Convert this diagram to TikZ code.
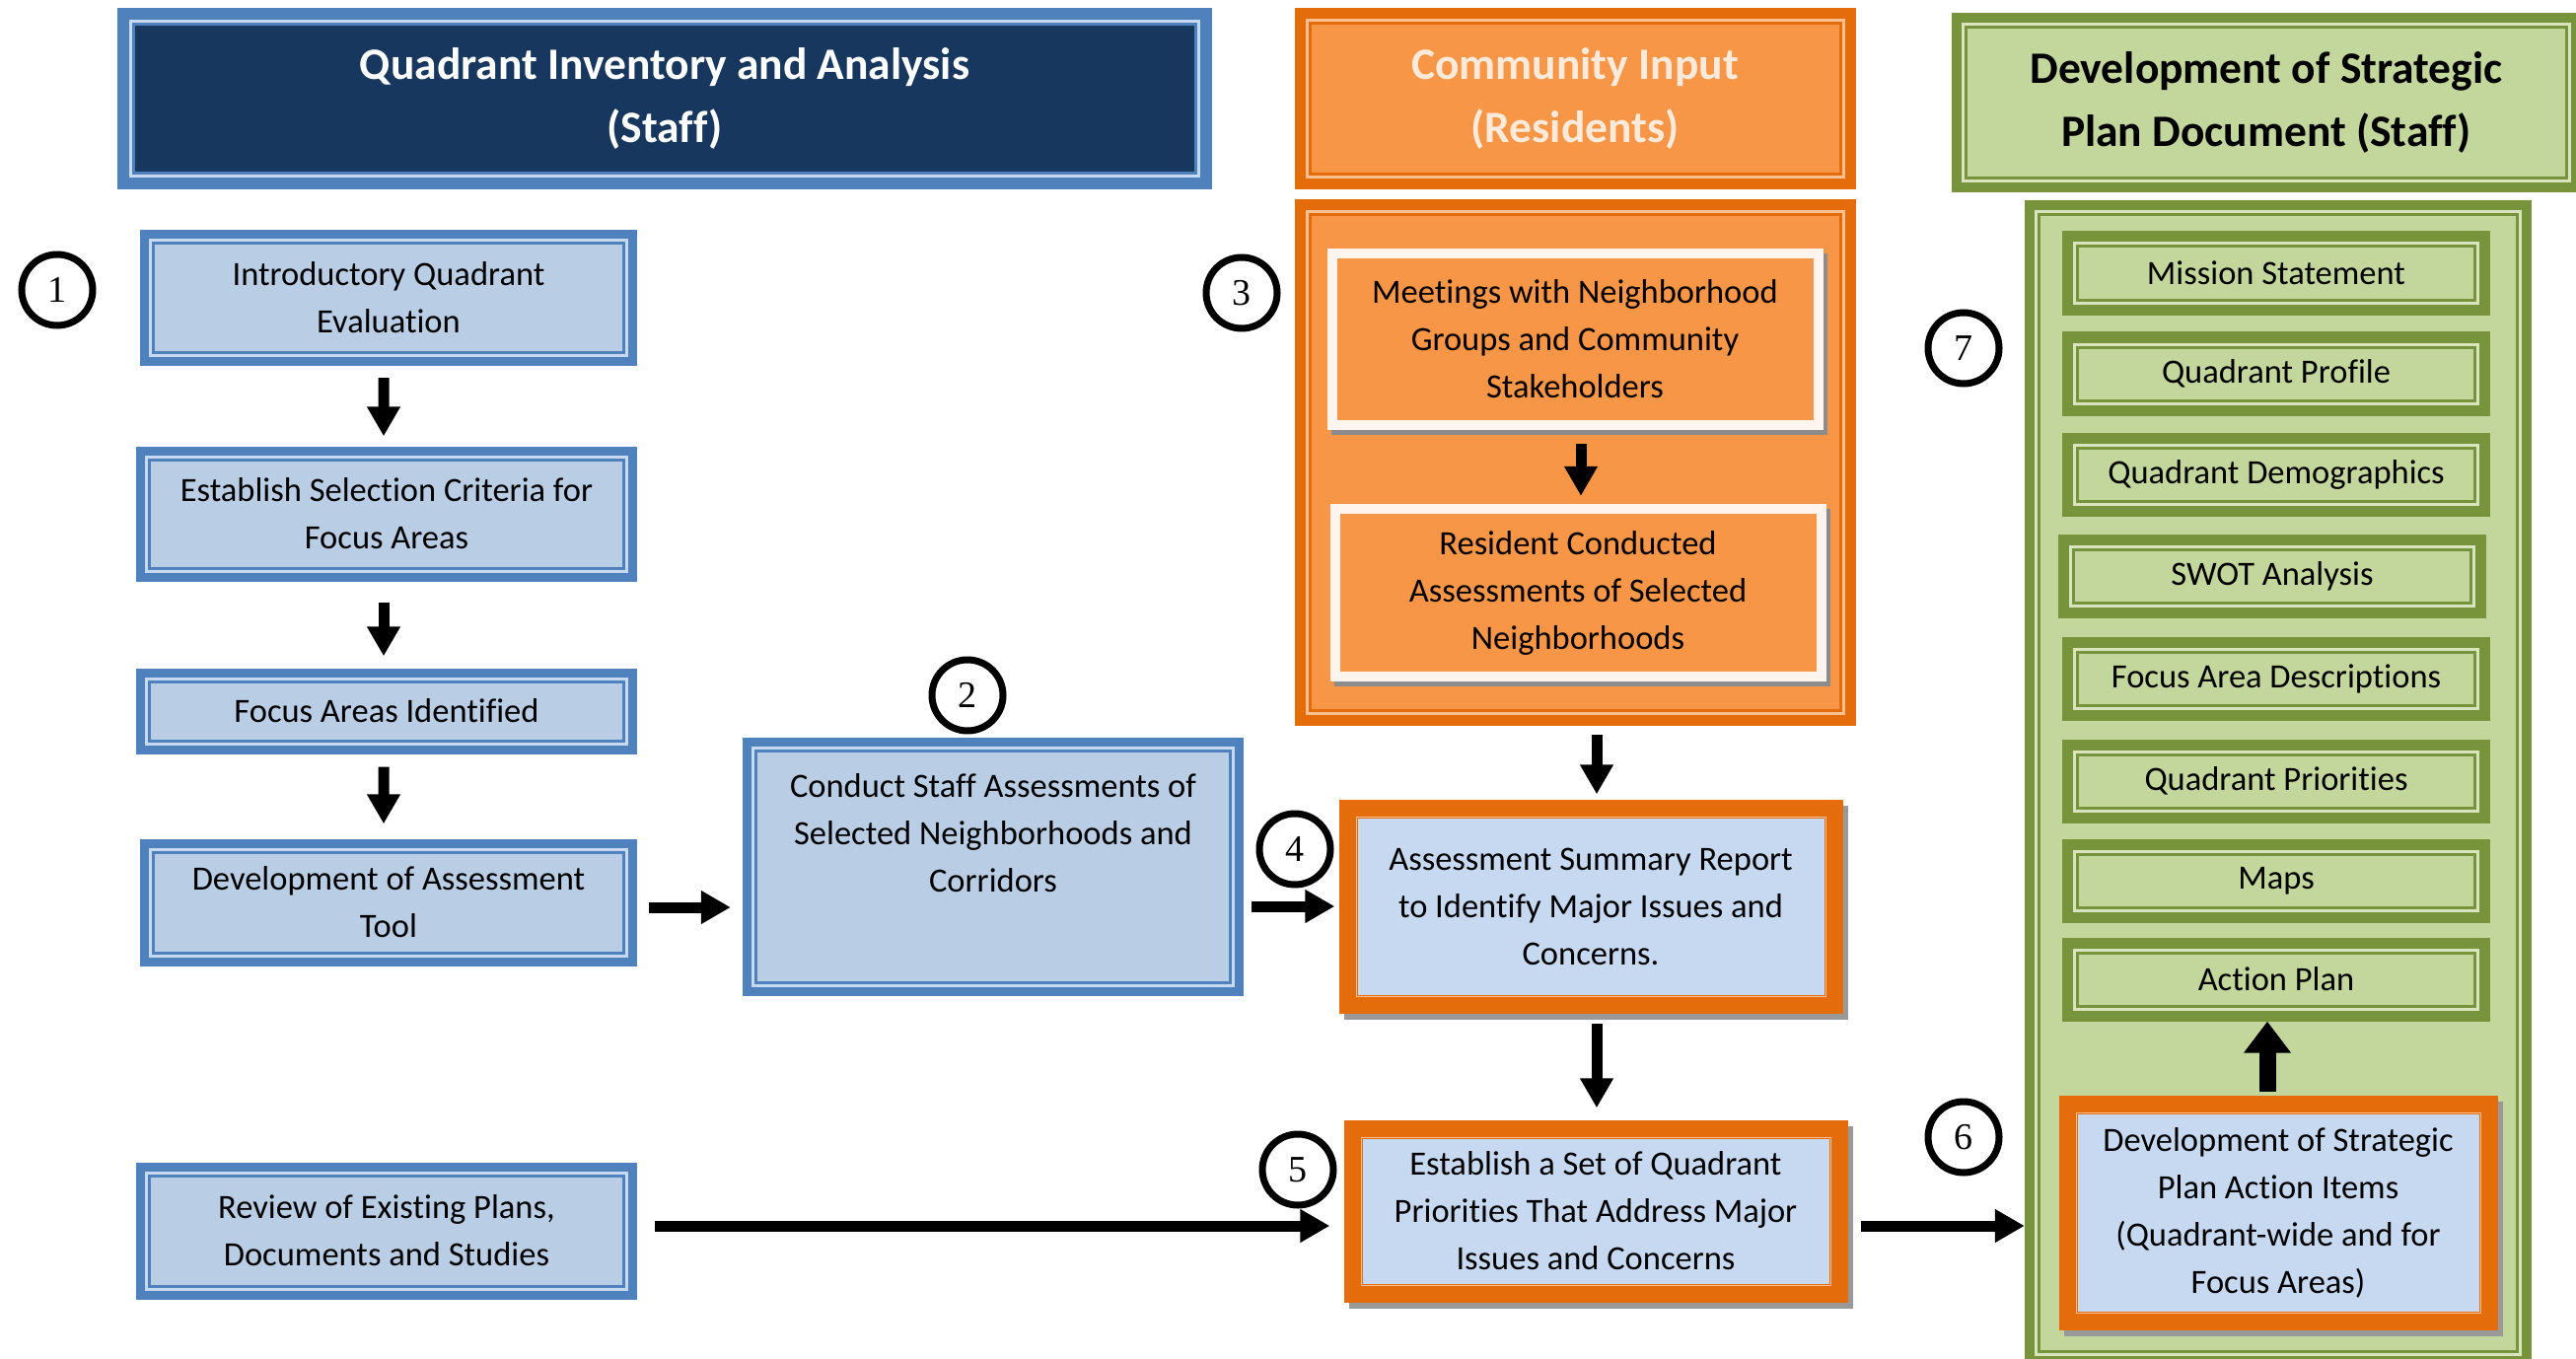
\documentclass[tikz,border=0pt]{standalone}
\usepackage{fontspec}
\setmainfont{Carlito}[Ligatures=CommonOff]
\newfontfamily\numfont{Liberation Serif}
\usetikzlibrary{arrows.meta,shadows}
\definecolor{bband}{HTML}{4F81BD}
\definecolor{bline}{HTML}{C6D9F1}
\definecolor{bfill}{HTML}{B9CDE5}
\definecolor{navy}{HTML}{17375E}
\definecolor{oband}{HTML}{E46C0A}
\definecolor{ofill}{HTML}{F79646}
\definecolor{oline}{HTML}{FAC090}
\definecolor{otext}{HTML}{FDEADA}
\definecolor{ocream}{HTML}{FFF5EE}
\definecolor{gband}{HTML}{77933C}
\definecolor{gfill}{HTML}{C3D69B}
\definecolor{gline}{HTML}{D7E4BD}
\definecolor{lblue}{HTML}{C6D9F1}
\tikzset{
  frm/.style n args={6}{rectangle, fill=#1, inner sep=0pt, align=center,
    path picture={
      \fill[#2] ([shift={(#4,#4)}]path picture bounding box.south west) rectangle ([shift={(-#4,-#4)}]path picture bounding box.north east);
      \fill[#1] ([shift={(#5,#5)}]path picture bounding box.south west) rectangle ([shift={(-#5,-#5)}]path picture bounding box.north east);
      \fill[#3] ([shift={(#6,#6)}]path picture bounding box.south west) rectangle ([shift={(-#6,-#6)}]path picture bounding box.north east);
    }},
  body/.style={font=\fontsize{34.5bp}{48bp}\selectfont, align=center, text=black},
  ttl/.style={font=\fontsize{45.5bp}{64bp}\selectfont\bfseries},
  stepbox/.style={frm={bband}{bline}{bfill}{9bp}{12bp}{15bp}, body},
  hdrnavy/.style={frm={bband}{bline}{navy}{12bp}{15bp}{18bp}, ttl, text=white},
  hdrorange/.style={frm={oband}{oline}{ofill}{11bp}{14bp}{17bp}, ttl, text=otext},
  hdrgreen/.style={frm={gband}{gline}{gfill}{10bp}{13bp}{16bp}, ttl, text=black},
  obox/.style={frm={oband}{oline}{ofill}{11bp}{14bp}{17bp}},
  meetbox/.style={frm={ocream}{ocream}{ofill}{10bp}{10bp}{10bp}, body,
    drop shadow={shadow xshift=4bp, shadow yshift=-5bp, fill=black!45, opacity=1}},
  gbox/.style={frm={gband}{gline}{gfill}{10bp}{13bp}{16bp}},
  gitem/.style={frm={gband}{gline}{gfill}{11bp}{14bp}{17bp}, body},
  obluebox/.style={frm={oband}{oline}{lblue}{17bp}{18bp}{19bp}, body,
    drop shadow={shadow xshift=5bp, shadow yshift=-6bp, fill=black!40, opacity=1}},
  num/.style={circle, draw=black, line width=7bp, minimum size=72bp, inner sep=0pt,
    font=\numfont\fontsize{38bp}{38bp}\selectfont},
  arr/.style={line width=11bp, -{Triangle[length=30bp,width=32bp]}},
  bigarr/.style={line width=17bp, -{Triangle[length=32bp,width=46bp]}}
}
\begin{document}
\begin{tikzpicture}[x=1bp,y=-1bp]
\useasboundingbox[fill=white] (0,0) rectangle (2612,1378);

% headers
\node[hdrnavy, minimum width=1109bp, minimum height=184bp] (h1) at (674,100) {Quadrant Inventory and Analysis\\(Staff)};
\node[hdrorange, minimum width=569bp, minimum height=184bp] (h2) at (1597,100) {Community Input\\(Residents)};
\node[hdrgreen, minimum width=638bp, minimum height=182bp] (h3) at (2298,104) {Development of Strategic\\Plan Document (Staff)};

% left column
\node[stepbox, minimum width=504bp, minimum height=138bp] (b1) at (394,302) {Introductory Quadrant\\Evaluation};
\node[stepbox, minimum width=507bp, minimum height=137bp] (b2) at (392,521) {Establish Selection Criteria for\\Focus Areas};
\node[stepbox, minimum width=507bp, minimum height=87bp] (b3) at (392,721) {Focus Areas Identified};
\node[stepbox, minimum width=504bp, minimum height=129bp] (b4) at (394,915) {Development of Assessment\\Tool};
\node[stepbox, minimum width=507bp, minimum height=139bp] (b5) at (392,1248) {Review of Existing Plans,\\Documents and Studies};
\node[stepbox, minimum width=508bp, minimum height=262bp] (b6) at (1007,879) {};
\node[body] (b6t) at (1007,845) {Conduct Staff Assessments of\\Selected Neighborhoods and\\Corridors};

% community input
\node[obox, minimum width=569bp, minimum height=533bp] (ob) at (1597,469) {};
\node[meetbox, minimum width=503bp, minimum height=183bp] (m1) at (1597,344) {Meetings with Neighborhood\\Groups and Community\\Stakeholders};
\node[meetbox, minimum width=503bp, minimum height=180bp] (m2) at (1600,601) {Resident Conducted\\Assessments of Selected\\Neighborhoods};

\node[obluebox, minimum width=511bp, minimum height=217bp] (b7) at (1613,919) {Assessment Summary Report\\to Identify Major Issues and\\Concerns.};
\node[obluebox, minimum width=511bp, minimum height=185bp] (b9) at (1618,1228) {Establish a Set of Quadrant\\Priorities That Address Major\\Issues and Concerns};

% strategic plan document
\node[gbox, minimum width=514bp, minimum height=1182bp] (gb) at (2310,794) {};
\node[gitem, minimum width=434bp, minimum height=85bp] (g1) at (2308,277) {Mission Statement};
\node[gitem, minimum width=434bp, minimum height=85bp] (g2) at (2308,379) {Quadrant Profile};
\node[gitem, minimum width=434bp, minimum height=85bp] (g3) at (2308,481) {Quadrant Demographics};
\node[gitem, minimum width=434bp, minimum height=85bp] (g4) at (2304,584) {SWOT Analysis};
\node[gitem, minimum width=434bp, minimum height=85bp] (g5) at (2308,688) {Focus Area Descriptions};
\node[gitem, minimum width=434bp, minimum height=85bp] (g6) at (2308,792) {Quadrant Priorities};
\node[gitem, minimum width=434bp, minimum height=85bp] (g7) at (2308,893) {Maps};
\node[gitem, minimum width=434bp, minimum height=85bp] (g8) at (2308,993) {Action Plan};
\node[obluebox, minimum width=445bp, minimum height=238bp] (b10) at (2310,1230) {Development of Strategic\\Plan Action Items\\(Quadrant-wide and for\\Focus Areas)};

% numbers
\node[num] (n1) at (58,294) {1};
\node[num] (n2) at (981,705) {2};
\node[num] (n3) at (1259,297) {3};
\node[num] (n4) at (1313,861) {4};
\node[num] (n5) at (1316,1186) {5};
\node[num] (n6) at (1991,1153) {6};
\node[num] (n7) at (1991,353) {7};

% arrows
\draw[arr, shorten <=12bp, shorten >=10bp] ([xshift=-5bp]b1.south) -- ([xshift=-3bp]b2.north);
\draw[arr, shorten <=21bp, shorten >=12bp] ([xshift=-3bp]b2.south) -- ([xshift=-3bp]b3.north);
\draw[arr, shorten <=13bp, shorten >=15bp] ([xshift=-3bp]b3.south) -- ([xshift=-5bp]b4.north);
\draw[arr, shorten <=12bp, shorten >=12bp] ([yshift=-5bp]b4.east) -- ([yshift=-5bp]b4.east -| b6.west);
\draw[arr, shorten <=8bp, shorten >=4bp] (b6.east |- b7.west) -- (b7.west);
\draw[arr, shorten <=18bp, shorten >=14bp] ([yshift=5bp]b5.east) -- ([yshift=5bp]b5.east -| b9.west);
\draw[arr, shorten <=13bp, shorten >=0bp] ([yshift=-15bp]b9.east) -- ([yshift=-15bp]b9.east -| gb.west);
\draw[arr, shorten <=9bp, shorten >=5bp] ([xshift=6bp]b7.north |- ob.south) -- ([xshift=6bp]b7.north);
\draw[arr, shorten <=10bp, shorten >=12bp] ([xshift=6bp]b7.south) -- ([xshift=6bp]b7.south |- b9.north);
\draw[arr, shorten <=14bp, shorten >=8bp] ([xshift=6bp]m1.south) -- ([xshift=6bp]m1.south |- m2.north);
\draw[bigarr, shorten <=4bp, shorten >=0bp] ([xshift=-11bp]b10.north) -- ([xshift=-11bp]b10.north |- g8.south);
\end{tikzpicture}
\end{document}
